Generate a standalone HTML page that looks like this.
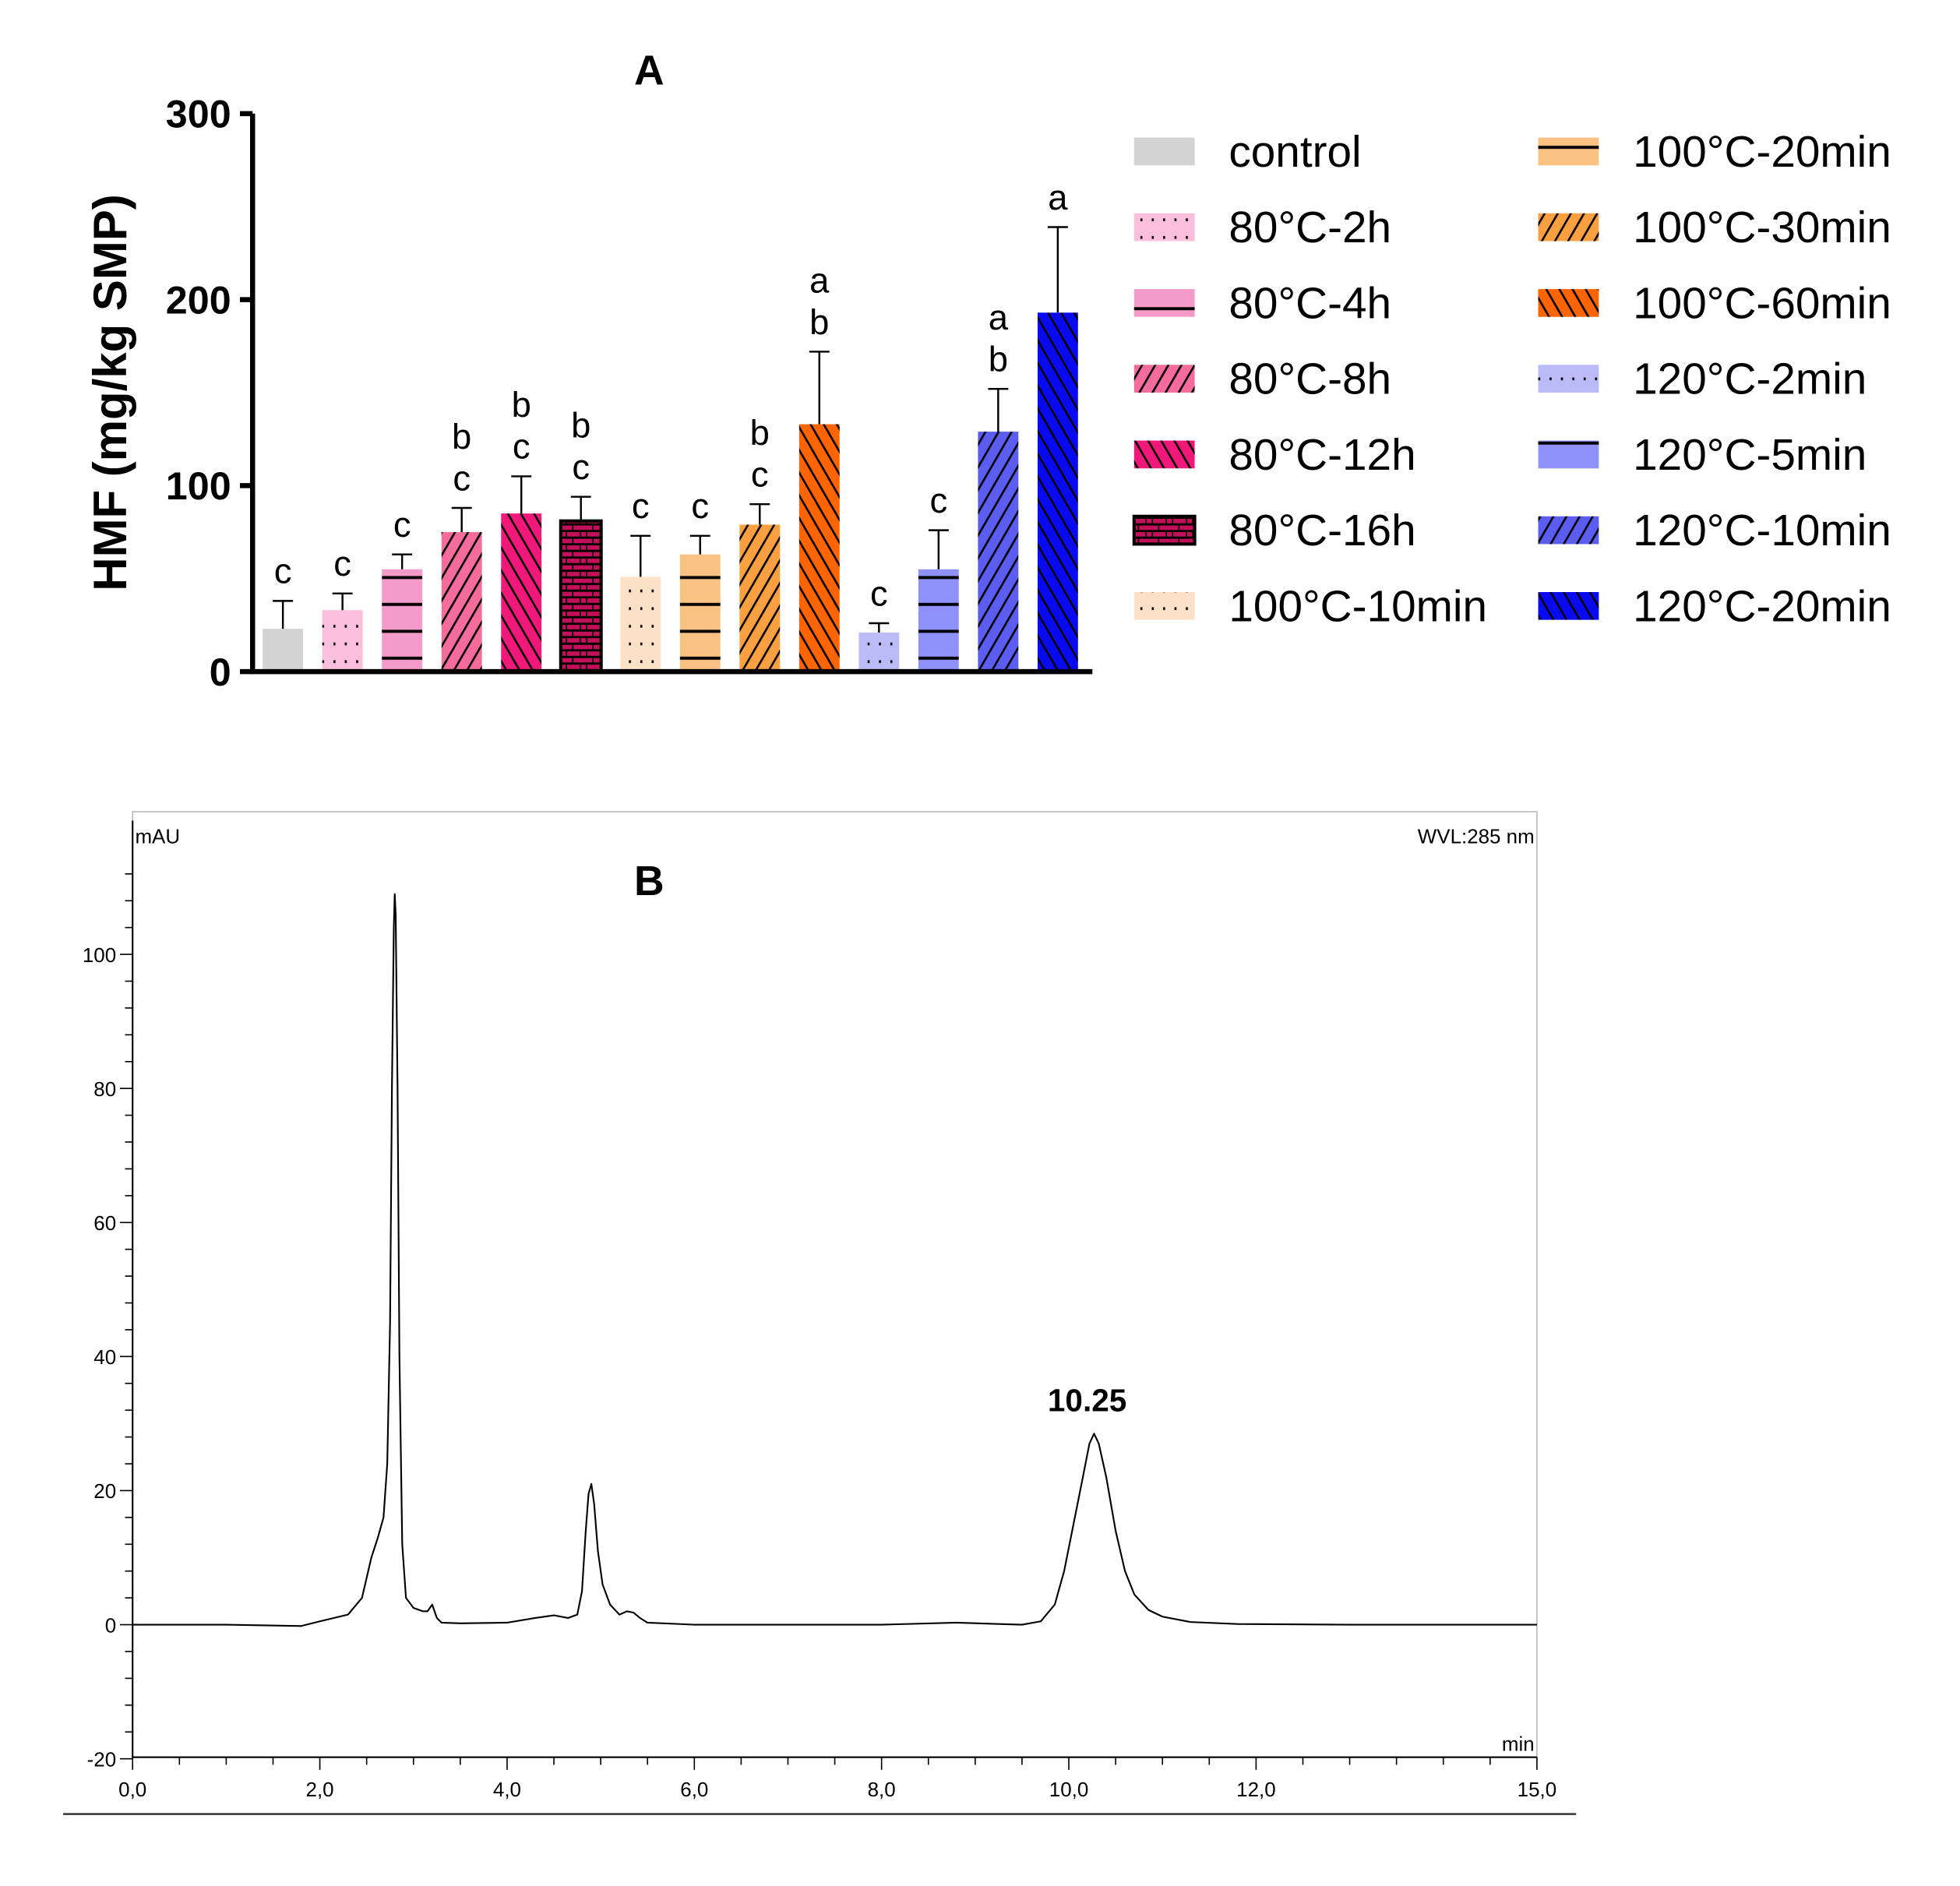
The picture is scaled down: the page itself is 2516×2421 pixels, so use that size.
<!DOCTYPE html>
<html><head><meta charset="utf-8"><style>html,body{margin:0;padding:0;background:#fff}svg{display:block;font-family:"Liberation Sans",Arial,sans-serif}</style></head>
<body>
<svg id="fig" width="2516" height="2421" viewBox="0 0 1552 1494" preserveAspectRatio="none" xmlns="http://www.w3.org/2000/svg">
<defs>
<pattern id="p-dots" patternUnits="userSpaceOnUse" width="9" height="14"><rect width="9" height="14" fill="#f9bfdc"/><rect x="3" y="5" width="1.6" height="2.2" fill="#000"/></pattern>
<pattern id="p-hl-pink" patternUnits="userSpaceOnUse" width="32" height="21.3"><rect width="32" height="21.3" fill="#f59bc9"/><rect y="9" width="32" height="2.4" fill="#000"/></pattern>
<pattern id="p-d8" patternUnits="userSpaceOnUse" width="9" height="9" patternTransform="rotate(30)"><rect width="9" height="9" fill="#f46c9c"/><rect width="1.6" height="9" fill="#000"/></pattern>
<pattern id="p-d12" patternUnits="userSpaceOnUse" width="9" height="9" patternTransform="rotate(-30)"><rect width="9" height="9" fill="#f0197a"/><rect width="1.6" height="9" fill="#000"/></pattern>
<pattern id="p-brick" patternUnits="userSpaceOnUse" width="16" height="10.5"><rect width="16" height="10.5" fill="#000"/><rect x="1" y="1.5" width="10" height="3.5" fill="#c2105a"/><rect x="12" y="1.5" width="4" height="3.5" fill="#c2105a"/><rect x="0" y="6.8" width="5" height="3.5" fill="#c2105a"/><rect x="6" y="6.8" width="10" height="3.5" fill="#c2105a"/></pattern>
<pattern id="p-dots2" patternUnits="userSpaceOnUse" width="9" height="14"><rect width="9" height="14" fill="#fde1c6"/><rect x="3" y="5" width="1.6" height="2.2" fill="#000"/></pattern>
<pattern id="p-hl-or" patternUnits="userSpaceOnUse" width="32" height="21.3"><rect width="32" height="21.3" fill="#fcc283"/><rect y="9" width="32" height="2.4" fill="#000"/></pattern>
<pattern id="p-d30" patternUnits="userSpaceOnUse" width="9" height="9" patternTransform="rotate(30)"><rect width="9" height="9" fill="#fba040"/><rect width="1.6" height="9" fill="#000"/></pattern>
<pattern id="p-d60" patternUnits="userSpaceOnUse" width="9" height="9" patternTransform="rotate(-30)"><rect width="9" height="9" fill="#fe6400"/><rect width="1.6" height="9" fill="#000"/></pattern>
<pattern id="p-dots3" patternUnits="userSpaceOnUse" width="9" height="14"><rect width="9" height="14" fill="#bbbcf7"/><rect x="3" y="5" width="1.6" height="2.2" fill="#000"/></pattern>
<pattern id="p-hl-bl" patternUnits="userSpaceOnUse" width="32" height="21.3"><rect width="32" height="21.3" fill="#9092fb"/><rect y="9" width="32" height="2.4" fill="#000"/></pattern>
<pattern id="p-d10b" patternUnits="userSpaceOnUse" width="9" height="9" patternTransform="rotate(30)"><rect width="9" height="9" fill="#5b5cf0"/><rect width="1.6" height="9" fill="#000"/></pattern>
<pattern id="p-d20b" patternUnits="userSpaceOnUse" width="9" height="9" patternTransform="rotate(-30)"><rect width="9" height="9" fill="#0a0af0"/><rect width="1.6" height="9" fill="#000"/></pattern>
</defs>
<g id="chartA"></g>
<g id="chartB"></g>
</svg>
<script>
const NS="http://www.w3.org/2000/svg";
const categories=["control","80°C-2h","80°C-4h","80°C-8h","80°C-12h","80°C-16h","100°C-10min","100°C-20min","100°C-30min","100°C-60min","120°C-2min","120°C-5min","120°C-10min","120°C-20min"];
const means=[23,33,55,75,85,81,51,63,79,133,21,55,129,193];
const errors=[15,9,8,13,20,13,22,10,11,39,5,21,23,46];
const letters=[["c"],["c"],["c"],["b","c"],["b","c"],["b","c"],["c"],["c"],["b","c"],["a","b"],["c"],["c"],["a","b"],["a"]];
const fills=["#d3d3d3","url(#p-dots)","url(#p-hl-pink)","url(#p-d8)","url(#p-d12)","url(#p-brick)","url(#p-dots2)","url(#p-hl-or)","url(#p-d30)","url(#p-d60)","url(#p-dots3)","url(#p-hl-bl)","url(#p-d10b)","url(#p-d20b)"];
const yTicksA=[0,100,200,300];
const timePts=[0,1,1.8,2.0,2.3,2.45,2.55,2.62,2.68,2.72,2.75,2.77,2.79,2.8,2.81,2.83,2.85,2.88,2.92,3.0,3.1,3.15,3.2,3.25,3.3,3.5,4.0,4.3,4.5,4.65,4.75,4.8,4.84,4.87,4.9,4.93,4.97,5.02,5.1,5.2,5.28,5.35,5.42,5.5,6,7,8,8.8,9.5,9.7,9.85,9.95,10.05,10.15,10.22,10.27,10.32,10.4,10.5,10.6,10.7,10.85,11,11.3,11.8,13,15];
const mauPts=[0,0,-0.2,0.5,1.5,4,10,13,16,24,45,80,104,109,106,80,40,12,4,2.5,2,2,3,1,0.3,0.2,0.3,1,1.4,1,1.5,5,14,19.5,21,18,11,6,3,1.5,2,1.8,1,0.3,0,0,0,0.3,0,0.5,3,8,15,22,27,28.5,27,22,14,8,4.5,2.2,1.2,0.4,0.1,0,0];
const xTicksB=[0,2,4,6,8,10,12,15];
const yTicksB=[-20,0,20,40,60,80,100];

function el(tag,attrs,parent,text){const e=document.createElementNS(NS,tag);for(const k in attrs)e.setAttribute(k,attrs[k]);if(text!==undefined)e.textContent=text;parent.appendChild(e);return e;}

// ---- Chart A ----
const A=document.getElementById('chartA');
const ax0=200,ax1=865,ay0=532,ay1=90;
const yA=v=>ay0-(v/300)*(ay0-ay1);
const xA=i=>224+i*47.2;
const bw=32;
categories.forEach((c,i)=>{
  const g=el('g',{},A);
  
  
  const r=el('rect',{x:xA(i)-bw/2,y:yA(means[i]),width:bw,height:ay0-yA(means[i]),fill:fills[i]},g);
  if(i===5){r.setAttribute('stroke','#000');r.setAttribute('stroke-width','2.5');}
  const top=yA(means[i]+errors[i]);
  const eb=el('path',{d:`M${xA(i)} ${yA(means[i])}V${top}M${xA(i)-8} ${top}H${xA(i)+8}`,stroke:'#000','stroke-width':1.5,fill:'none'},g);
  
  
  const L=letters[i];
  L.forEach((l,k)=>{
    const t=el('text',{x:xA(i),y:top-14-(L.length-1-k)*33,'text-anchor':'middle','font-size':28},g,l);
    
    
  });
});
const axA=el('path',{d:`M${ax0} ${ay1}V${ay0+2}M${ax0-2} ${ay0}H${ax1}`,stroke:'#000','stroke-width':4,fill:'none'},A);


yTicksA.forEach(v=>{
  el('path',{d:`M${ax0-10} ${yA(v)}H${ax0}`,stroke:'#000','stroke-width':4},A);
  const t=el('text',{x:183,y:yA(v)+11,'text-anchor':'end','font-size':31,'font-weight':'bold'},A,v);
  
  
});
const yt=el('text',{x:0,y:0,transform:'translate(100,311) rotate(-90)','text-anchor':'middle','font-size':37,'font-weight':'bold'},A,'HMF (mg/kg SMP)');


const ta=el('text',{x:514,y:67,'text-anchor':'middle','font-size':33,'font-weight':'bold'},A,'A');


categories.forEach((c,i)=>{
  const col=i<7?0:1,row=i%7;
  const sx=col?1218:898,tx=col?1293:973,cy=120+row*60;
  const g=el('g',{},A);
  
  
  const r=el('rect',{x:sx,y:cy-11,width:48,height:22,fill:fills[i]},g);
  if(i===5){r.setAttribute('stroke','#000');r.setAttribute('stroke-width','2.5');}
  el('text',{x:tx,y:cy+12,'font-size':35},g,c);
});

// ---- Chart B ----
const B=document.getElementById('chartB');
const bx0=105,bx1=1217,by0=1392;
const xB=t=>bx0+t/15*(bx1-bx0);
const yB=v=>1287-v*5.31;
el('rect',{x:bx0,y:643,width:bx1-bx0,height:by0-643,fill:'none',stroke:'#bbb','stroke-width':1},B);
const axB=el('path',{d:`M${bx0} 650V${by0}H${bx1}`,stroke:'#000','stroke-width':1.3,fill:'none'},B);


el('path',{d:'M50 1437H1248',stroke:'#333','stroke-width':1.5},B);
for(let v=-20;v<=112;v+=4){const major=v%20===0;el('path',{d:`M${bx0-(major?10:6)} ${yB(v)}H${bx0}`,stroke:'#000','stroke-width':1},B);}
yTicksB.forEach(v=>{const t=el('text',{x:92,y:yB(v)+6,'text-anchor':'end','font-size':16},B,v);
  
  });
for(let m=0;m<=15;m+=0.5){const major=xTicksB.includes(m);el('path',{d:`M${xB(m)} ${by0}V${by0+(major?10:6)}`,stroke:'#000','stroke-width':1},B);}
xTicksB.forEach(m=>{const t=el('text',{x:xB(m),y:1423,'text-anchor':'middle','font-size':16},B,m.toFixed(1).replace('.',','));
  
  });
const lab=[['mAU',107,668,'start'],['WVL:285 nm',1215,668,'end'],['min',1215,1387,'end']];
lab.forEach(l=>{const t=el('text',{x:l[1],y:l[2],'text-anchor':l[3],'font-size':16},B,l[0]);
  
  });
const tb=el('text',{x:514,y:709,'text-anchor':'middle','font-size':33,'font-weight':'bold'},B,'B');


let d='';timePts.forEach((t,i)=>{d+=(i?'L':'M')+xB(t).toFixed(2)+' '+yB(mauPts[i]).toFixed(2);});
const ln=el('path',{d:d,stroke:'#000','stroke-width':1.3,fill:'none','stroke-linejoin':'round'},B);


const pk=el('text',{x:xB(10.25)-4,y:1118,'text-anchor':'middle','font-size':25,'font-weight':'bold'},B,'10.25');


</script>
</body></html>
